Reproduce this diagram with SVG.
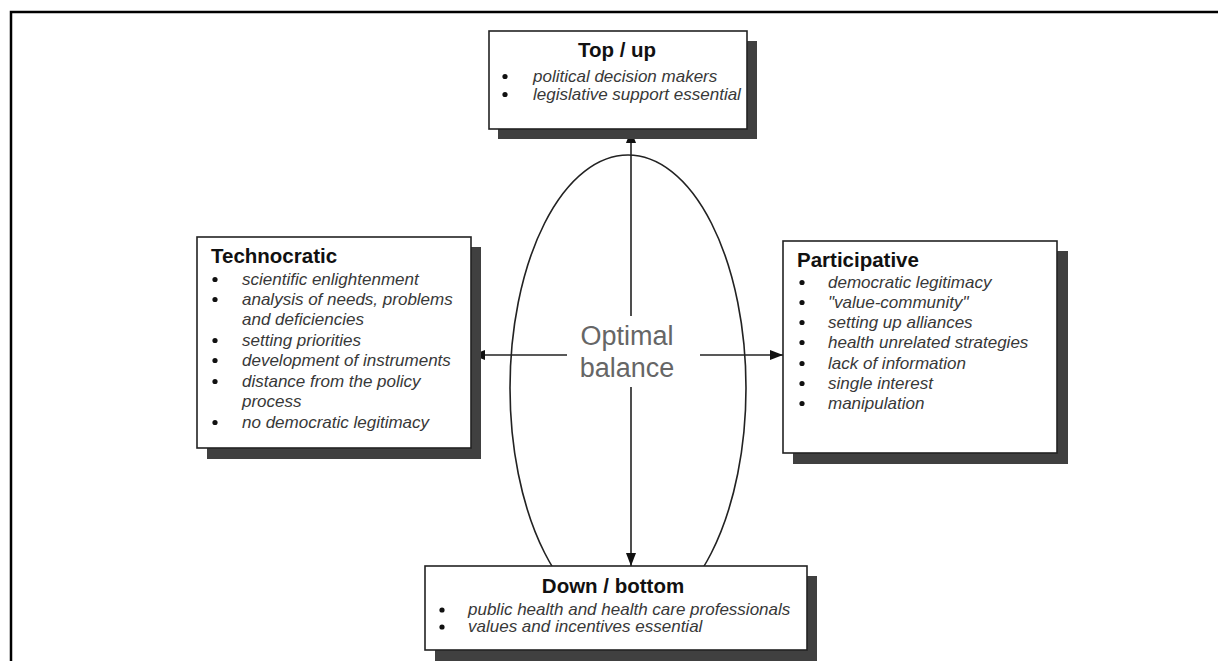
<svg xmlns="http://www.w3.org/2000/svg" width="1218" height="661" viewBox="0 0 1218 661">
<defs>
<marker id="ah" viewBox="0 0 13 10" refX="13" refY="5" markerWidth="13" markerHeight="10" markerUnits="userSpaceOnUse" orient="auto">
<path d="M0,0 L13,5 L0,10 Z" fill="#111"/>
</marker>
</defs>
<style>
.box{fill:#fff;stroke:#222;stroke-width:1.6}
.sh{fill:#404040}
.ttl{font-family:"Liberation Sans",Arial,sans-serif;font-weight:bold;font-size:20.5px;fill:#111}
.it{font-family:"Liberation Sans",Arial,sans-serif;font-style:italic;font-size:17px;fill:#383838}
.bul{fill:#111}
.ln{stroke:#222;stroke-width:1.6;fill:none}
.ctr{font-family:"Liberation Sans",Arial,sans-serif;font-size:27px;fill:#666;text-anchor:middle}
</style>
<rect width="1218" height="661" fill="#fff"/>
<path d="M11,661 V12 H1218" fill="none" stroke="#000" stroke-width="2.5"/>

<g id="ellipse">
<ellipse cx="628" cy="388" rx="118" ry="233" class="ln"/>
<text class="ctr" x="627" y="345">Optimal</text>
<text class="ctr" x="627" y="377">balance</text>
</g>

<g id="connectors">
<line class="ln" x1="631" y1="316" x2="631" y2="130" marker-end="url(#ah)"/>
<line class="ln" x1="631" y1="387" x2="631" y2="566" marker-end="url(#ah)"/>
<line class="ln" x1="567" y1="355" x2="472" y2="355" marker-end="url(#ah)"/>
<line class="ln" x1="700" y1="355" x2="783" y2="355" marker-end="url(#ah)"/>
</g>

<g id="top">
<rect class="sh" x="498" y="41" width="259" height="98"/>
<rect class="box" x="489" y="31" width="258" height="98"/>
<text class="ttl" x="617" y="57" text-anchor="middle">Top / up</text>
<circle class="bul" cx="505" cy="76.5" r="2.6"/>
<text class="it" x="533" y="82">political decision makers</text>
<circle class="bul" cx="505" cy="94.5" r="2.6"/>
<text class="it" x="533" y="100">legislative support essential</text>
</g>

<g id="technocratic">
<rect class="sh" x="207" y="247" width="274" height="212"/>
<rect class="box" x="197" y="237" width="274" height="211"/>
<text class="ttl" x="211" y="263">Technocratic</text>
<g class="it">
<text x="242" y="285">scientific enlightenment</text>
<text x="242" y="305">analysis of needs, problems</text>
<text x="242" y="325">and deficiencies</text>
<text x="242" y="346">setting priorities</text>
<text x="242" y="366">development of instruments</text>
<text x="242" y="387">distance from the policy</text>
<text x="242" y="407">process</text>
<text x="242" y="428">no democratic legitimacy</text>
</g>
<g class="bul">
<circle cx="215" cy="279.5" r="2.6"/>
<circle cx="215" cy="299.5" r="2.6"/>
<circle cx="215" cy="340.5" r="2.6"/>
<circle cx="215" cy="360.5" r="2.6"/>
<circle cx="215" cy="381.5" r="2.6"/>
<circle cx="215" cy="422.5" r="2.6"/>
</g>
</g>

<g id="participative">
<rect class="sh" x="793" y="251" width="275" height="213"/>
<rect class="box" x="783" y="241" width="274" height="212"/>
<text class="ttl" x="797" y="267">Participative</text>
<g class="it">
<text x="828" y="288">democratic legitimacy</text>
<text x="828" y="308">"value-community"</text>
<text x="828" y="328">setting up alliances</text>
<text x="828" y="348">health unrelated strategies</text>
<text x="828" y="369">lack of information</text>
<text x="828" y="389">single interest</text>
<text x="828" y="409">manipulation</text>
</g>
<g class="bul">
<circle cx="802" cy="282.5" r="2.6"/>
<circle cx="802" cy="302.5" r="2.6"/>
<circle cx="802" cy="322.5" r="2.6"/>
<circle cx="802" cy="342.5" r="2.6"/>
<circle cx="802" cy="363.5" r="2.6"/>
<circle cx="802" cy="383.5" r="2.6"/>
<circle cx="802" cy="403.5" r="2.6"/>
</g>
</g>

<g id="bottom">
<rect class="sh" x="435" y="576" width="382" height="90"/>
<rect class="box" x="425" y="566" width="382" height="84"/>
<text class="ttl" x="613" y="593" text-anchor="middle">Down / bottom</text>
<circle class="bul" cx="442" cy="610" r="2.6"/>
<text class="it" x="468" y="615">public health and health care professionals</text>
<circle class="bul" cx="442" cy="627" r="2.6"/>
<text class="it" x="468" y="632">values and incentives essential</text>
</g>
</svg>
